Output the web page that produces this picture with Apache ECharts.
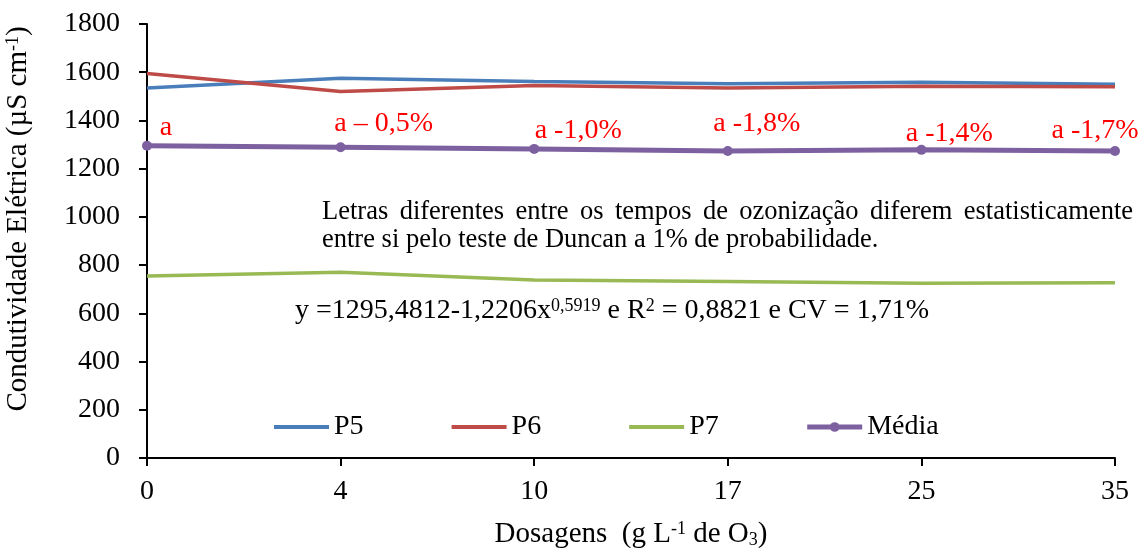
<!DOCTYPE html>
<html>
<head>
<meta charset="utf-8">
<script src="https://cdn.jsdelivr.net/npm/echarts@6/dist/echarts.min.js"></script>
<style>
  html, body { margin: 0; padding: 0; background: #fff; }
  #chart { width: 1140px; height: 548px; }
</style>
</head>
<body>
<div id="chart"></div>
<script>
// doses (g L-1 de O3)
var dosagens = ["0", "4", "10", "17", "25", "35"];
var p5 = [1535, 1575, 1562, 1552, 1558, 1550];
var p6 = [1595, 1520, 1545, 1535, 1542, 1540];
var p7 = [755, 770, 738, 732, 725, 727];
var media = [1295, 1289, 1282, 1273, 1278, 1273];
var mediaLetras = ["a", "a \u2013 0,5%", "a -1,0%", "a -1,8%", "a -1,4%", "a -1,7%"];
// where each letter sits relative to its point (px)
var letraOffset = [[19, -18], [43, -24], [44, -18], [29, -27], [28, -16], [-20, -20]];

var nota1 = "Letras diferentes entre os tempos de ozonização diferem estatisticamente";
var nota2 = "entre si pelo teste de Duncan a 1% de probabilidade.";

var FONT = "'Liberation Serif', 'Times New Roman', serif";

var chart = echarts.init(document.getElementById("chart"));

// justify the first note line between two x positions
function justified(text, x0, x1, y, size) {
  var ctx = document.createElement("canvas").getContext("2d");
  ctx.font = size + "px " + FONT;
  var words = text.split(" ");
  var widths = words.map(function (w) { return ctx.measureText(w).width; });
  var total = widths.reduce(function (a, b) { return a + b; }, 0);
  var gap = (x1 - x0 - total) / (words.length - 1);
  var x = x0;
  return words.map(function (w, i) {
    var el = {
      type: "text", left: x, top: y,
      style: { text: w, fill: "#000", font: size + "px " + FONT }
    };
    x += widths[i] + gap;
    return el;
  });
}

var graphics = justified(nota1, 322, 1133, 199, 26.5);
graphics.push({
  type: "text", left: 322, top: 227,
  style: { text: nota2, fill: "#000", font: "26.5px " + FONT }
});
graphics.push({
  type: "text", left: 295, top: 297,
  style: {
    text: "y =1295,4812-1,2206x{sup|0,5919} e R{sup|2} = 0,8821 e CV = 1,71%",
    fill: "#000",
    font: "28px " + FONT,
    rich: {
      sup: { fontSize: 18, fontFamily: FONT, verticalAlign: "top", fill: "#000" }
    }
  }
});

var option = {
  backgroundColor: "#fff",
  animation: false,
  textStyle: { fontFamily: FONT, color: "#000" },
  grid: { left: 147, right: 25, top: 24, bottom: 90, outerBoundsMode: "none", containLabel: false },
  legend: {
    left: 267,
    top: 408,
    itemWidth: 55,
    itemHeight: 12,
    itemGap: 86,
    lineStyle: { width: 4 },
    textStyle: { fontSize: 28, fontFamily: FONT, color: "#000" },
    data: [
      { name: "P5", itemStyle: { opacity: 0 } },
      { name: "P6", itemStyle: { opacity: 0 } },
      { name: "P7", itemStyle: { opacity: 0 } },
      { name: "Média", lineStyle: { width: 5 } }
    ]
  },
  xAxis: {
    type: "category",
    data: dosagens,
    boundaryGap: false,
    name: "Dosagens  (g L{sup|-1} de O{sub|3})",
    nameLocation: "middle",
    nameGap: 62,
    nameTextStyle: {
      fontSize: 29, fontFamily: FONT, color: "#000",
      rich: {
        sup: { fontSize: 18, fontFamily: FONT, verticalAlign: "top", color: "#000" },
        sub: { fontSize: 18, fontFamily: FONT, verticalAlign: "bottom", color: "#000" }
      }
    },
    axisLine: { lineStyle: { color: "#000", width: 2 } },
    axisTick: { show: true, length: 8, lineStyle: { color: "#000", width: 2 } },
    axisLabel: { fontSize: 28, fontFamily: FONT, color: "#000", margin: 20 },
    splitLine: { show: false }
  },
  yAxis: {
    type: "value",
    min: 0,
    max: 1800,
    interval: 200,
    name: "Condutividade Elétrica (µS cm{sup|-1})",
    nameLocation: "middle",
    nameGap: 114,
    nameTextStyle: {
      fontSize: 29, fontFamily: FONT, color: "#000",
      padding: [0, 0, 0, 44],
      rich: {
        sup: { fontSize: 18, fontFamily: FONT, verticalAlign: "top", color: "#000" }
      }
    },
    axisLine: { show: true, lineStyle: { color: "#000", width: 2 } },
    axisTick: { show: true, length: 8, lineStyle: { color: "#000", width: 2 } },
    axisLabel: {
      fontSize: 28, fontFamily: FONT, color: "#000", margin: 27,
      formatter: function (v) { return String(v); }
    },
    splitLine: { show: false }
  },
  series: [
    {
      name: "P5", type: "line", data: p5, symbol: "none",
      lineStyle: { color: "#4A7EBB", width: 3.5 }, itemStyle: { color: "#4A7EBB" }
    },
    {
      name: "P6", type: "line", data: p6, symbol: "none",
      lineStyle: { color: "#BE4B48", width: 3.5 }, itemStyle: { color: "#BE4B48" }
    },
    {
      name: "P7", type: "line", data: p7, symbol: "none",
      lineStyle: { color: "#98B954", width: 3.5 }, itemStyle: { color: "#98B954" }
    },
    {
      name: "Média", type: "line", symbol: "circle", symbolSize: 10,
      lineStyle: { color: "#7D60A0", width: 5 }, itemStyle: { color: "#7D60A0" },
      data: media.map(function (v, i) {
        return {
          value: v,
          label: {
            show: true,
            position: "inside",
            offset: letraOffset[i],
            formatter: mediaLetras[i],
            color: "#FF0000",
            fontSize: 28,
            fontFamily: FONT
          }
        };
      }),
      z: 5
    }
  ],
  graphic: graphics
};

option && chart.setOption(option);
</script>
</body>
</html>
